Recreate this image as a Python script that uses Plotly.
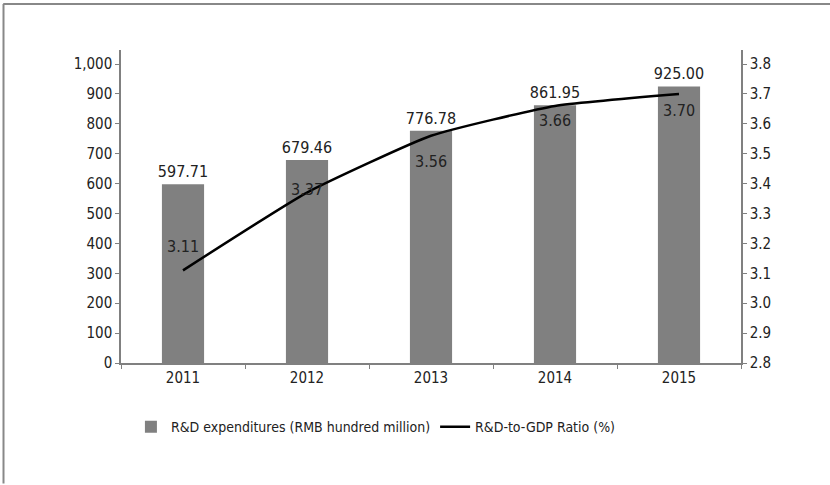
import plotly.graph_objects as go

years = ["2011", "2012", "2013", "2014", "2015"]
rd_spend = [597.71, 679.46, 776.78, 861.95, 925.00]
rd_ratio = [3.11, 3.37, 3.56, 3.66, 3.70]
left_ticks = [0, 100, 200, 300, 400, 500, 600, 700, 800, 900, 1000]
right_ticks = [2.8, 2.9, 3.0, 3.1, 3.2, 3.3, 3.4, 3.5, 3.6, 3.7, 3.8]

# vertical offsets (px) of the ratio labels relative to their points
ratio_label_shift = [24, 3, -26, -15, -17]

FONT = "Liberation Sans Narrow, DejaVu Sans Condensed, Arial Narrow, sans-serif"
AXIS_GRAY = "#808080"
TEXT = "#222222"

fig = go.Figure()

fig.add_trace(go.Bar(
    x=years, y=rd_spend,
    name="R&D expenditures (RMB hundred million)",
    marker=dict(color="#808080", line=dict(width=0)),
    width=0.34,
    text=[f"{v:.2f}" for v in rd_spend],
    textposition="outside",
    constraintext="none",
    textfont=dict(family=FONT, size=16, color=TEXT),
    cliponaxis=False,
))

fig.add_trace(go.Scatter(
    x=years, y=rd_ratio, yaxis="y2",
    name="R&D-to-GDP Ratio (%)",
    mode="lines",
    line=dict(color="black", width=2.5, shape="spline", smoothing=0.45),
    cliponaxis=False,
))

annotations = [
    dict(x=i, y=v, xref="x", yref="y2", text=f"{v:.2f}",
         showarrow=False, yshift=s,
         font=dict(family=FONT, size=16, color=TEXT))
    for i, (v, s) in enumerate(zip(rd_ratio, ratio_label_shift))
]

fig.update_layout(
    width=830, height=485,
    margin=dict(l=121, r=89, t=50, b=122),
    paper_bgcolor="white", plot_bgcolor="white",
    font=dict(family=FONT, size=14, color=TEXT),
    bargap=0.66,
    showlegend=True,
    legend=dict(
        orientation="h", x=0.016, xanchor="left", y=-0.205, yanchor="middle",
        font=dict(family=FONT, size=14, color=TEXT),
        itemwidth=30, traceorder="normal",
    ),
    xaxis=dict(
        type="category", categoryorder="array", categoryarray=years,
        range=[-0.5, len(years) - 0.5],
        showline=True, linecolor=AXIS_GRAY, linewidth=1.5,
        ticks="outside", tickson="boundaries", ticklen=4, tickcolor=AXIS_GRAY,
        showgrid=False, zeroline=False,
        tickfont=dict(family=FONT, size=15, color=TEXT),
    ),
    yaxis=dict(
        range=[0, 1047], tickvals=left_ticks,
        ticktext=[f"{v:,}" for v in left_ticks],
        showline=True, linecolor=AXIS_GRAY, linewidth=1.5,
        ticks="outside", ticklen=4, tickcolor=AXIS_GRAY,
        showgrid=False, zeroline=False,
        tickfont=dict(family=FONT, size=15, color=TEXT),
    ),
    yaxis2=dict(
        overlaying="y", side="right",
        range=[2.8, 3.847], tickvals=right_ticks,
        ticktext=[f"{v:.1f}" for v in right_ticks],
        showline=True, linecolor=AXIS_GRAY, linewidth=1.5,
        ticks="outside", ticklen=4, tickcolor=AXIS_GRAY,
        showgrid=False, zeroline=False,
        tickfont=dict(family=FONT, size=15, color=TEXT),
    ),
    annotations=annotations,
    shapes=[
        dict(type="line", xref="paper", yref="paper",
             x0=-0.19, x1=1.2, y0=1.147, y1=1.147,
             line=dict(color="#888888", width=2)),
        dict(type="line", xref="paper", yref="paper",
             x0=-0.1895, x1=-0.1895, y0=1.147, y1=-0.385,
             line=dict(color="#888888", width=2)),
    ],
)

fig.write_html("out.html")
